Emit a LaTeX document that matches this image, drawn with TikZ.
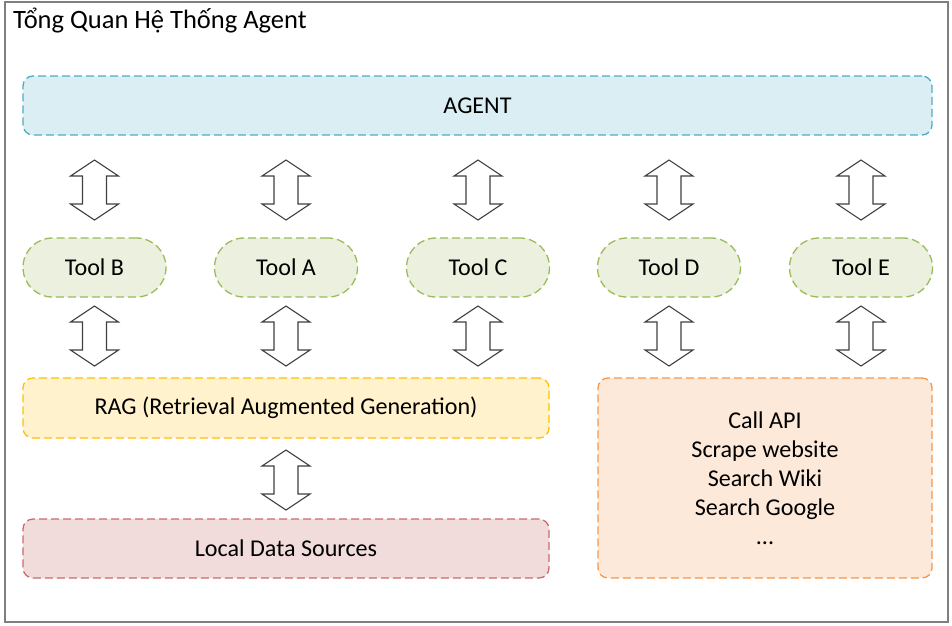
\documentclass[tikz,border=0pt]{standalone}
\usepackage{fontspec}
\setmainfont{Carlito}
\definecolor{frameC}{HTML}{7F7F7F}
\definecolor{agentF}{HTML}{DAEEF3}\definecolor{agentD}{HTML}{4BACC6}
\definecolor{toolF}{HTML}{EBF1DE}\definecolor{toolD}{HTML}{9BBB59}
\definecolor{ragF}{HTML}{FFF2CC}\definecolor{ragD}{HTML}{FFC000}
\definecolor{webF}{HTML}{FDE9D9}\definecolor{webD}{HTML}{F79646}
\definecolor{locF}{HTML}{F2DCDB}\definecolor{locD}{HTML}{C0504D}
\definecolor{arrC}{HTML}{404040}
\begin{document}
\begin{tikzpicture}[x=1pt,y=-1pt,
  box/.style={rectangle, rounded corners=10pt, line width=1.3pt, dash pattern=on 8pt off 4pt, inner sep=0pt,
    font=\fontsize{24.1}{29}\selectfont, align=center},
  toolbox/.style={box, rounded corners=29.5pt, minimum width=143pt, minimum height=59pt, fill=toolF, draw=toolD},
  arrowline/.style={draw=arrC, line width=1.1pt, fill=white, line join=miter},
  dblarrow/.pic={\path[arrowline] (0,0) -- (24,16) -- (12,16) -- (12,44) -- (24,44) -- (0,60) -- (-24,44) -- (-12,44) -- (-12,16) -- (-24,16) -- cycle;}
]
\useasboundingbox (0,0) rectangle (952,625);
\draw[frameC, line width=1.5pt] (5,2) rectangle (948,622);
\node[anchor=west, inner sep=0pt, font=\fontsize{26.5}{30}\selectfont] (title) at (13,21) {Tổng Quan Hệ Thống Agent};
\node[box, fill=agentF, draw=agentD, minimum width=909pt, minimum height=59pt] (agent) at (477.5,105.5) {AGENT};
\node[toolbox] (toolB) at (94.5,267.5) {Tool B};
\node[toolbox] (toolA) at (286,267.5) {Tool A};
\node[toolbox] (toolC) at (478,267.5) {Tool C};
\node[toolbox] (toolD) at (669,267.5) {Tool D};
\node[toolbox] (toolE) at (861,267.5) {Tool E};
\node[box, fill=ragF, draw=ragD, minimum width=526pt, minimum height=60pt] (rag) at (286,408) {RAG (Retrieval Augmented Generation)};
\node[box, fill=locF, draw=locD!85!white, minimum width=526pt, minimum height=59pt] (local) at (286,548.5) {Local Data Sources};
\node[box, fill=webF, draw=webD, minimum width=334pt, minimum height=200pt] (web) at (765,478) {Call API\\Scrape website\\Search Wiki\\Search Google\\...};
\foreach \x in {94.5,286,478,669,861} {
  \pic at (\x,160) {dblarrow};
  \pic at (\x,306) {dblarrow};
}
\pic at (286,450) {dblarrow};
\end{tikzpicture}
\end{document}
